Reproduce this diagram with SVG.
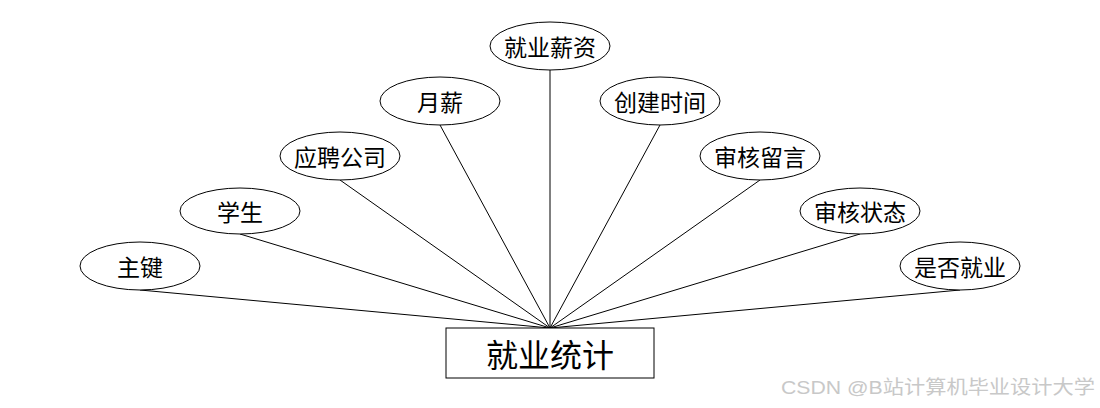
<svg xmlns="http://www.w3.org/2000/svg" width="1100" height="408" viewBox="0 0 1100 408">
<style>
.attr ellipse{fill:#fff;stroke:#000;stroke-width:1}
.attr text{font-family:"Noto Sans CJK SC","Liberation Sans",sans-serif;font-size:23px;text-anchor:middle;dominant-baseline:central;fill:#000}
.conn line{stroke:#000;stroke-width:1}
.ent rect{fill:#fff;stroke:#000;stroke-width:1}
.ent text{font-family:"Noto Sans CJK SC","Liberation Sans",sans-serif;font-size:32px;text-anchor:middle;dominant-baseline:central;fill:#000}
.wm{font-family:"Liberation Sans","Noto Sans CJK SC",sans-serif;font-size:19px;fill:#c8c8c8}
</style>
<rect width="1100" height="408" fill="#fff"/>
<g id="connectors" class="conn">
<line x1="140" y1="290" x2="550" y2="328"/>
<line x1="240" y1="234" x2="550" y2="328"/>
<line x1="340" y1="180" x2="550" y2="328"/>
<line x1="440" y1="125" x2="550" y2="328"/>
<line x1="550" y1="70" x2="550" y2="328"/>
<line x1="660" y1="125" x2="550" y2="328"/>
<line x1="760" y1="180" x2="550" y2="328"/>
<line x1="860" y1="234" x2="550" y2="328"/>
<line x1="960" y1="290" x2="550" y2="328"/>
</g>
<g id="n-zhujian" class="attr"><ellipse cx="140" cy="266" rx="60" ry="24"/><text x="140" y="266">主键</text></g>
<g id="n-xuesheng" class="attr"><ellipse cx="240" cy="211" rx="60" ry="23"/><text x="240" y="211">学生</text></g>
<g id="n-yingpin" class="attr"><ellipse cx="340" cy="156" rx="60" ry="24"/><text x="340" y="156">应聘公司</text></g>
<g id="n-yuexin" class="attr"><ellipse cx="440" cy="101" rx="60" ry="24"/><text x="440" y="101">月薪</text></g>
<g id="n-xinzi" class="attr"><ellipse cx="550" cy="46" rx="60" ry="24"/><text x="550" y="46">就业薪资</text></g>
<g id="n-chuangjian" class="attr"><ellipse cx="660" cy="101" rx="60" ry="24"/><text x="660" y="101">创建时间</text></g>
<g id="n-liuyan" class="attr"><ellipse cx="760" cy="156" rx="60" ry="24"/><text x="760" y="156">审核留言</text></g>
<g id="n-zhuangtai" class="attr"><ellipse cx="860" cy="211" rx="60" ry="23"/><text x="860" y="211">审核状态</text></g>
<g id="n-jiuye" class="attr"><ellipse cx="960" cy="266" rx="60" ry="24"/><text x="960" y="266">是否就业</text></g>
<g id="n-tongji" class="ent"><rect x="446" y="328" width="208" height="50"/><text x="550" y="353">就业统计</text></g>
<text class="wm" x="781" y="394" textLength="314" lengthAdjust="spacingAndGlyphs">CSDN @B站计算机毕业设计大学</text>
</svg>
